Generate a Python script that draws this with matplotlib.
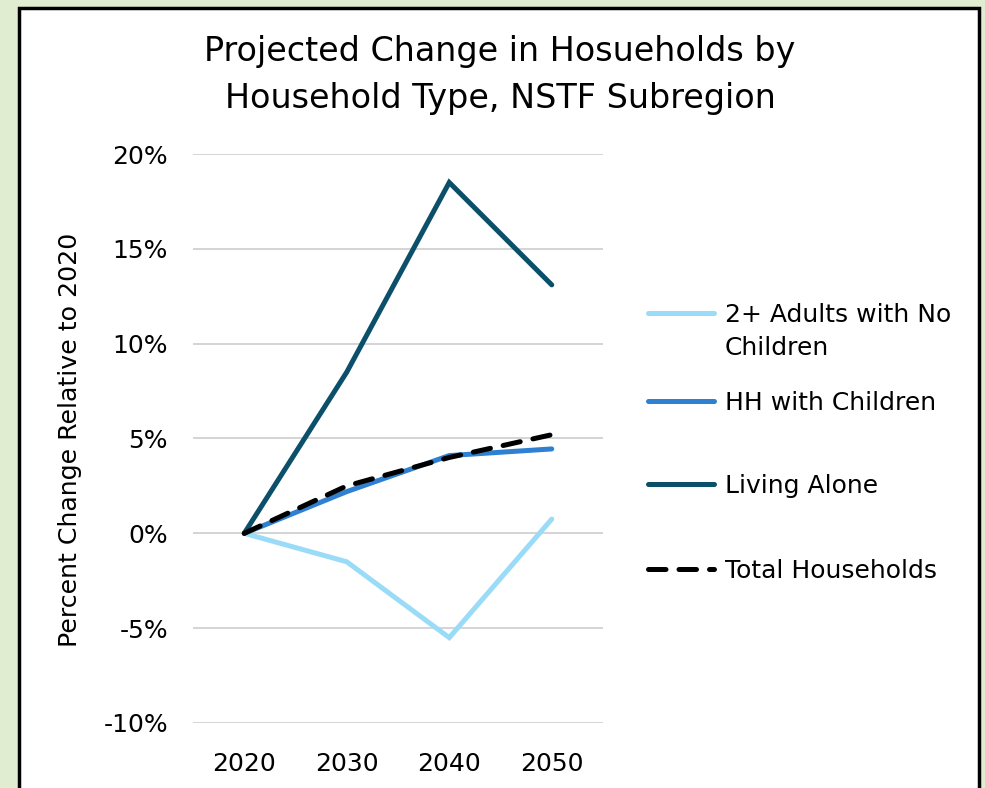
import matplotlib.pyplot as plt
from matplotlib.lines import Line2D
from matplotlib.patches import Rectangle
from matplotlib.ticker import PercentFormatter

years = ['2020', '2030', '2040', '2050']
adults_no_children = [0.0, -1.5, -5.5, 0.75]
hh_with_children = [0.0, 2.2, 4.1, 4.45]
living_alone = [0.0, 8.5, 18.5, 13.1]
total_households = [0.0, 2.5, 4.0, 5.2]

labels = ['2+ Adults with No\nChildren', 'HH with Children', 'Living Alone', 'Total Households']
colors = ['#9ADCF8', '#2F80D1', '#0B4F6A', '#000000']
series = [adults_no_children, hh_with_children, living_alone, total_households]

plt.rcParams['font.family'] = ['DejaVu Sans']
plt.rcParams['axes.unicode_minus'] = False

LW = 3.6
DASH = (3.5, 2.6)

fig = plt.figure(figsize=(9.85, 7.88), dpi=100, facecolor='#E1EDD0')
fig.patches.append(Rectangle((19 / 985, -0.02), 960 / 985, 1 - 8 / 788 + 0.02,
                             transform=fig.transFigure, facecolor='white',
                             edgecolor='black', linewidth=2.5, zorder=-1))

ax = fig.add_axes([193 / 985, 1 - 723 / 788, 410 / 985, 569 / 788])
ax.set_zorder(1)
ax.set_facecolor('none')
x = range(len(years))
for vals, col, lab in zip(series, colors, labels):
    if lab == 'Total Households':
        ax.plot(x, vals, color=col, lw=LW, dashes=DASH, dash_capstyle='round', zorder=4)
    else:
        ax.plot(x, vals, color=col, lw=LW, solid_capstyle='round',
                solid_joinstyle='miter', zorder=3)

ax.set_xlim(-0.5, 3.5)
ax.set_ylim(-10, 20)
ax.set_yticks([-10, -5, 0, 5, 10, 15, 20])
ax.yaxis.set_major_formatter(PercentFormatter(decimals=0))
ax.set_xticks(list(x))
ax.set_xticklabels(years)
ax.tick_params(length=0, labelsize=18)
ax.tick_params(axis='x', pad=21)
ax.tick_params(axis='y', pad=18)
ax.grid(axis='y', color='#D4D4D4', lw=1.4)
for s in ax.spines.values():
    s.set_visible(False)

fig.text(70 / 985, 1 - 440 / 788, 'Percent Change Relative to 2020', rotation=90,
         ha='center', va='center', fontsize=18.2)
fig.text(500 / 985, 1 - 75 / 788, 'Projected Change in Hosueholds by\nHousehold Type, NSTF Subregion',
         ha='center', va='center', fontsize=24, linespacing=1.55)

# legend drawn by hand to follow the spacing of the original
handle_y = [313, 401, 484, 569]
for yy, col, lab in zip(handle_y, colors, labels):
    yf = 1 - yy / 788
    if lab == 'Total Households':
        fig.add_artist(Line2D([648 / 985, 714 / 985], [yf, yf], color=col, lw=LW,
                              dashes=DASH, dash_capstyle='round'))
    else:
        fig.add_artist(Line2D([648 / 985, 714 / 985], [yf, yf], color=col, lw=LW,
                              solid_capstyle='round'))
    fig.text(725 / 985, 1 - (yy - 10) / 788, lab, ha='left', va='top', fontsize=18,
             linespacing=1.45)

fig.savefig('out.png', dpi=100, facecolor=fig.get_facecolor())
